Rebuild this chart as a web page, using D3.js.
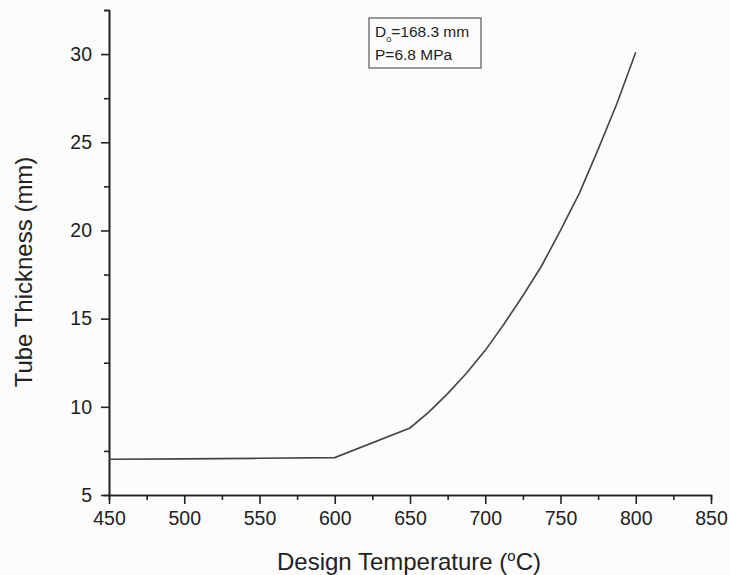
<!DOCTYPE html>
<html>
<head>
<meta charset="utf-8">
<script src="https://cdn.jsdelivr.net/npm/d3@7"></script>
<style>
  body { margin: 0; background: #fcfcfc; }
  text { font-family: "Liberation Sans", Arial, sans-serif; fill: #222; }
</style>
</head>
<body>
<svg class="chart" width="730" height="575"></svg>
<script>
// data
var temps = [450, 500, 550, 600, 650, 662.5, 675, 687.5, 700, 712.5, 725, 737.5, 750, 762.5, 775, 787.5, 800];
var thickness = [7.03, 7.05, 7.08, 7.12, 8.8, 9.7, 10.75, 11.9, 13.2, 14.7, 16.3, 18.0, 20.0, 22.1, 24.6, 27.2, 30.1];

var xMajor = [450, 500, 550, 600, 650, 700, 750, 800, 850];
var xMinor = [475, 525, 575, 625, 675, 725, 775, 825];
var yMajor = [5, 10, 15, 20, 25, 30];
var yMinor = [7.5, 12.5, 17.5, 22.5, 27.5, 32.5];

var noteLines = ["=168.3 mm", "P=6.8 MPa"];

var svg = d3.select(".chart");

var margin = {left: 109, top: 10, right: 19, bottom: 80};
var w = 730 - margin.left - margin.right,
    h = 575 - margin.top - margin.bottom;

var g = svg.append("g")
    .attr("transform", "translate(" + margin.left + "," + margin.top + ")");

var x = d3.scaleLinear().domain([450, 850]).range([0, w]);
var y = d3.scaleLinear().domain([5, 32.5]).range([h, 0]);

// minor ticks first, then majors with labels
g.append("g")
    .attr("class", "axis")
    .attr("transform", "translate(0," + h + ")")
    .call(d3.axisBottom(x).tickValues(xMinor).tickSize(5).tickFormat(""));
g.append("g")
    .attr("class", "axis")
    .attr("transform", "translate(0," + h + ")")
    .call(d3.axisBottom(x).tickValues(xMajor).tickSize(9).tickSizeOuter(0).tickPadding(7));

g.append("g")
    .attr("class", "axis")
    .call(d3.axisLeft(y).tickValues(yMinor).tickSize(5).tickFormat(""));
g.append("g")
    .attr("class", "axis")
    .call(d3.axisLeft(y).tickValues(yMajor).tickSize(8).tickSizeOuter(0).tickPadding(9));

g.selectAll(".axis path, .axis line")
    .attr("stroke", "#222")
    .attr("stroke-width", 1.6);
g.selectAll(".axis text")
    .attr("font-size", 19.5)
    .attr("fill", "#222");

// the curve
var line = d3.line()
    .x(function(d, i){ return x(temps[i]) })
    .y(function(d){ return y(d) });

g.append("path")
    .datum(thickness)
    .attr("d", line)
    .attr("fill", "none")
    .attr("stroke", "#444")
    .attr("stroke-width", 1.6);

// axis titles
svg.append("text")
    .attr("x", 409)
    .attr("y", 570)
    .attr("text-anchor", "middle")
    .attr("font-size", 24)
    .html("Design Temperature (<tspan dy='-9' font-size='15'>o</tspan><tspan dy='9'>C)</tspan>");

svg.append("text")
    .attr("transform", "translate(32,272) rotate(-90)")
    .attr("text-anchor", "middle")
    .attr("font-size", 24)
    .text("Tube Thickness (mm)");

// note box
var note = svg.append("g").attr("transform", "translate(369,18)");
note.append("rect")
    .attr("width", 112)
    .attr("height", 50)
    .attr("fill", "none")
    .attr("stroke", "#555")
    .attr("stroke-width", 1.2);

var t1 = note.append("text")
    .attr("x", 6)
    .attr("y", 19)
    .attr("font-size", 15.5);
t1.append("tspan").text("D");
t1.append("tspan").attr("dy", 5).attr("font-size", 9).text("o");
t1.append("tspan").attr("dy", -5).text(noteLines[0]);

note.append("text")
    .attr("x", 6)
    .attr("y", 42)
    .attr("font-size", 15.5)
    .text(noteLines[1]);
</script>
</body>
</html>
